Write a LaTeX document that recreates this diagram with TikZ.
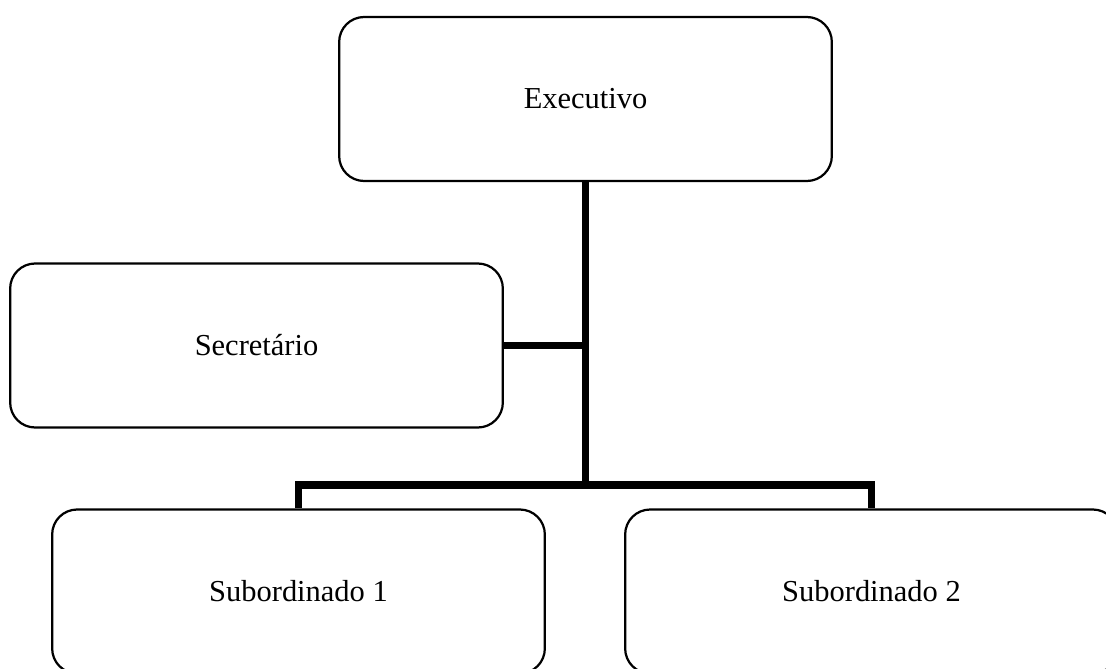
\documentclass[tikz,border=0pt]{standalone}
\usepackage{fontspec}
\setmainfont{Liberation Serif}
\usepackage{tikz}
\usetikzlibrary{positioning}
\usetikzlibrary{calc}

\begin{document}
\begin{tikzpicture}[x=0.03cm, y=-0.03cm,
  cargo/.style={draw, line width=1.9pt, rounded corners=0.75cm,
    minimum width=14.78cm, minimum height=4.92cm,
    font=\fontsize{26}{30}\selectfont},
  ligacao/.style={line width=6pt}]
\useasboundingbox (0,0) rectangle (1106,669);
\clip (0,0) rectangle (1106,669);
\node[cargo] (exec) at (585.5, 99) {Executivo};
\node[cargo] (secr) at (256.5, 345.5) {Secretário};
\node[cargo] (sub1) at (298.5, 591.5) {Subordinado 1};
\node[cargo] (sub2) at (871.5, 591.5) {Subordinado 2};
\coordinate (barra) at (585.5, 485);
\draw[ligacao] (exec.south) -- (barra);
\draw[ligacao] (secr.east) -- (secr.east -| barra);
\draw[ligacao] (sub1.north) -- (sub1.north |- barra) -- (sub2.north |- barra) -- (sub2.north);
\end{tikzpicture}
\end{document}
